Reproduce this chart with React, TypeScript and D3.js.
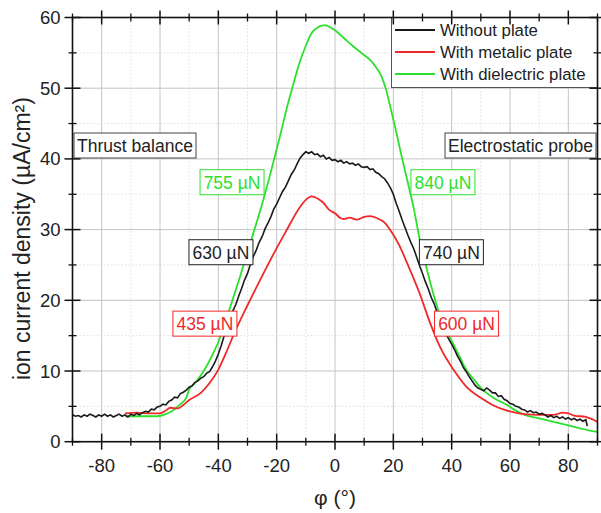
import React from "react";
import * as d3 from "d3";

const xMajorTicks = [-80, -60, -40, -20, 0, 20, 40, 60, 80];
const xMinorTicks = [-90, -70, -50, -30, -10, 10, 30, 50, 70, 90];
const yMajorTicks = [0, 10, 20, 30, 40, 50, 60];
const yMinorTicks = [5, 15, 25, 35, 45, 55];

const seriesNames = ["Without plate", "With metalic plate", "With dielectric plate"];
const seriesColors = ["#1a1a1a", "#f02828", "#2ee02e"];

const withoutPlate: [number, number][] = [
  [-90, 3.8], [-89, 3.6], [-88, 3.7], [-87, 3.5], [-86, 3.8], [-85, 3.6], [-84, 3.9], [-83, 3.7], [-82, 3.5], [-81, 3.8],
  [-80, 3.6], [-79, 3.9], [-78, 3.6], [-77, 3.8], [-76, 3.5], [-75, 3.7], [-74, 3.9], [-73, 3.6], [-72, 3.8], [-71, 3.5],
  [-70, 3.9], [-69, 3.7], [-68, 4.0], [-67, 3.8], [-66, 4.1], [-65, 4.3], [-64, 4.2], [-63, 4.6], [-62, 4.5], [-61, 4.9],
  [-60, 5.0], [-59, 5.3], [-58, 5.2], [-57, 5.7], [-56, 5.9], [-55, 6.3], [-54, 6.2], [-53, 6.8], [-52, 7.0], [-51, 7.3],
  [-50, 7.7], [-49, 7.9], [-48, 8.4], [-47, 8.6], [-46, 9.0], [-45, 9.2], [-44, 9.7], [-43, 9.9], [-42, 10.6], [-41, 11.4],
  [-40, 12.4], [-39, 13.6], [-38, 15.0], [-37, 16.2], [-36, 17.3], [-35, 18.5], [-34, 19.4], [-33, 20.6], [-32, 21.7], [-31, 22.9],
  [-30, 23.8], [-29, 25.1], [-28, 26.2], [-27, 27.1], [-26, 28.2], [-25, 29.0], [-24, 30.1], [-23, 30.9], [-22, 31.8], [-21, 32.9],
  [-20, 33.6], [-19, 34.5], [-18, 35.4], [-17, 36.0], [-16, 36.9], [-15, 37.8], [-14, 38.4], [-13, 39.3], [-12, 40.1], [-11, 40.6],
  [-10, 41.0], [-9, 40.8], [-8, 41.0], [-7, 40.6], [-6, 40.7], [-5, 40.3], [-4, 40.5], [-3, 40.0], [-2, 40.2], [-1, 39.8],
  [0, 39.9], [1, 39.6], [2, 39.8], [3, 39.4], [4, 39.6], [5, 39.3], [6, 39.4], [7, 39.1], [8, 39.3], [9, 38.9],
  [10, 38.8], [11, 38.9], [12, 38.5], [13, 38.6], [14, 38.1], [15, 37.9], [16, 37.5], [17, 37.2], [18, 36.6], [19, 35.9],
  [20, 35.0], [21, 33.7], [22, 32.6], [23, 31.4], [24, 30.3], [25, 29.2], [26, 28.2], [27, 27.3], [28, 26.1], [29, 24.9],
  [30, 23.8], [31, 22.6], [32, 21.6], [33, 20.4], [34, 19.5], [35, 18.3], [36, 17.2], [37, 16.4], [38, 15.3], [39, 14.5],
  [40, 13.8], [41, 13.0], [42, 12.1], [43, 11.4], [44, 10.5], [45, 9.9], [46, 9.2], [47, 8.6], [48, 8.0], [49, 7.6],
  [50, 7.4], [51, 7.2], [52, 7.6], [53, 7.3], [54, 6.9], [55, 6.9], [56, 6.4], [57, 6.5], [58, 6.0], [59, 5.8],
  [60, 5.4], [61, 5.3], [62, 5.0], [63, 4.9], [64, 4.6], [65, 4.5], [66, 4.2], [67, 4.4], [68, 4.1], [69, 4.2],
  [70, 3.9], [71, 4.0], [72, 3.8], [73, 3.5], [74, 3.7], [75, 3.4], [76, 3.6], [77, 3.3], [78, 3.5], [79, 3.2],
  [80, 3.4], [81, 3.1], [82, 3.3], [83, 3.0], [84, 3.2], [85, 2.9], [86, 3.1], [86.5, 2.2],
];

const metalicPlate: [number, number][] = [
  [-72, 4.0], [-68, 4.1], [-64, 4.0], [-60, 4.0], [-58, 4.4], [-56.5, 4.8], [-54, 4.7], [-52, 5.2], [-50, 5.9],
  [-46, 6.9], [-43, 8.3], [-40, 10.2], [-37, 12.9], [-35, 14.9], [-30, 19.3], [-26, 22.6], [-21, 26.6], [-17, 29.6],
  [-12, 33.2], [-10, 34.2], [-8, 34.7], [-6, 34.4], [-4, 33.8], [-2, 32.8], [0, 32.3], [2, 31.6], [3, 31.5], [5, 31.7],
  [7.5, 31.4], [10, 31.8], [12, 31.9], [15, 31.5], [17, 31.0], [19, 29.9], [22, 27.8], [25, 25.0], [29, 21.0],
  [32.6, 16.8], [36, 13.4], [40.6, 10.2], [45, 7.8], [50, 6.2], [54, 5.2], [59, 4.4], [65, 3.9], [70, 3.8], [75, 3.8],
  [78, 4.1], [80, 4.0], [82, 3.7], [86, 3.5], [90, 2.8],
];

const dielectricPlate: [number, number][] = [
  [-72, 3.6], [-66, 3.6], [-61, 3.6], [-58, 3.9], [-56, 4.3], [-53, 5.3], [-51, 6.2], [-50, 7.4], [-48, 8.3], [-46, 9.4],
  [-44, 10.7], [-42, 12.3], [-40, 14.1], [-37, 17.7], [-35, 20.2], [-32.6, 23.3], [-30, 26.8], [-28, 29.5], [-25, 33.6],
  [-23, 36.6], [-19, 43.0], [-16, 48.0], [-14, 51.0], [-12, 53.8], [-10, 56.0], [-8, 57.8], [-6, 58.6], [-4, 58.9],
  [-3, 58.9], [-2, 58.7], [0, 58.2], [3, 57.1], [6, 56.0], [9, 55.0], [12, 54.0], [14, 53.0], [16, 51.6], [17.5, 49.8],
  [19, 47.3], [21, 43.8], [22.5, 41.0], [25, 36.6], [27, 33.0], [29, 28.7], [31, 25.2], [33, 22.0], [36, 17.9], [38, 15.8],
  [40.6, 13.8], [43, 11.8], [45, 10.2], [48, 8.6], [50, 7.6], [54, 6.3], [59, 5.2], [62, 4.4], [65, 3.8], [70, 3.3],
  [75, 2.8], [80, 2.3], [84, 1.9], [87, 1.6], [90, 1.4],
];

const annotationLabels = ["Thrust balance", "Electrostatic probe"];
const thrustLeft = ["755 µN", "630 µN", "435 µN"];
const thrustRight = ["840 µN", "740 µN", "600 µN"];

const W = 601;
const H = 513;
const left = 72.5;
const right = 597.5;
const top = 17.5;
const bottom = 441.7;
const FONT = "'Liberation Sans', Arial, sans-serif";

export default function App() {
  const x = d3.scaleLinear().domain([-90, 90]).range([left, right]);
  const y = d3.scaleLinear().domain([0, 60]).range([bottom, top]);
  const lineRaw = d3.line<[number, number]>().x((d) => x(d[0])).y((d) => y(d[1]));
  const lineSmooth = d3
    .line<[number, number]>()
    .x((d) => x(d[0]))
    .y((d) => y(d[1]))
    .curve(d3.curveMonotoneX);

  const valueBoxes = [
    { text: thrustLeft[0], color: seriesColors[2], cx: -35.3, cy: 36.7 },
    { text: thrustLeft[1], color: "#222", cx: -39.1, cy: 26.8 },
    { text: thrustLeft[2], color: seriesColors[1], cx: -44.6, cy: 16.7 },
    { text: thrustRight[0], color: seriesColors[2], cx: 37.0, cy: 36.7 },
    { text: thrustRight[1], color: "#222", cx: 39.9, cy: 26.8 },
    { text: thrustRight[2], color: seriesColors[1], cx: 45.1, cy: 16.7 },
  ];

  return (
    <svg
      width={W}
      height={H}
      style={{ position: "absolute", left: 0, top: 0, background: "#fff" }}
      fontFamily={FONT}
    >
      <defs>
        <clipPath id="plotClip">
          <rect x={left} y={top} width={right - left} height={bottom - top} />
        </clipPath>
      </defs>
      {xMinorTicks.map((t) => (
        <line key={"xm" + t} x1={x(t)} x2={x(t)} y1={top} y2={bottom} stroke="#d8d8d8" strokeWidth={0.8} strokeDasharray="1.5,2" />
      ))}
      {yMinorTicks.map((t) => (
        <line key={"ym" + t} x1={left} x2={right} y1={y(t)} y2={y(t)} stroke="#d8d8d8" strokeWidth={0.8} strokeDasharray="1.5,2" />
      ))}
      {xMajorTicks.map((t) => (
        <line key={"xg" + t} x1={x(t)} x2={x(t)} y1={top} y2={bottom} stroke="#c4c4c4" strokeWidth={1} />
      ))}
      {yMajorTicks.map((t) => (
        <line key={"yg" + t} x1={left} x2={right} y1={y(t)} y2={y(t)} stroke="#c4c4c4" strokeWidth={1} />
      ))}

      <g clipPath="url(#plotClip)" fill="none">
        <path d={lineSmooth(dielectricPlate) || ""} stroke={seriesColors[2]} strokeWidth={1.8} />
        <path d={lineSmooth(metalicPlate) || ""} stroke={seriesColors[1]} strokeWidth={1.8} />
        <path d={lineRaw(withoutPlate) || ""} stroke={seriesColors[0]} strokeWidth={1.6} />
      </g>

      <g fontSize={17.5}>
        <rect x={74} y={133} width={122} height={25} fill="#fff" stroke="#444" strokeWidth={1} />
        <text x={135} y={151.5} textAnchor="middle" fill="#222">{annotationLabels[0]}</text>
        <rect x={445} y={133} width={151} height={25} fill="#fff" stroke="#444" strokeWidth={1} />
        <text x={520.5} y={151.5} textAnchor="middle" fill="#222">{annotationLabels[1]}</text>
        {valueBoxes.map((b, i) => (
          <g key={"vb" + i}>
            <rect x={x(b.cx) - 32} y={y(b.cy) - 12.5} width={64} height={25} fill="#fff" stroke={b.color} strokeWidth={1} />
            <text x={x(b.cx)} y={y(b.cy) + 6.3} textAnchor="middle" fill={b.color}>{b.text}</text>
          </g>
        ))}
      </g>

      <g>
        <rect x={391.5} y={17.5} width={206} height={70} fill="#fff" stroke="#555" strokeWidth={1} />
        {seriesNames.map((n, i) => (
          <g key={"lg" + i}>
            <line x1={395} x2={435} y1={30 + i * 22} y2={30 + i * 22} stroke={seriesColors[i]} strokeWidth={1.8} />
            <text x={440} y={36 + i * 22} fontSize={16.8} fill="#222">{n}</text>
          </g>
        ))}
      </g>

      <rect x={left} y={top} width={right - left} height={bottom - top} fill="none" stroke="#111" strokeWidth={1.6} />
      {xMajorTicks.map((t) => (
        <g key={"xt" + t}>
          <line x1={x(t)} x2={x(t)} y1={bottom - 8} y2={bottom + 8} stroke="#111" strokeWidth={1.5} />
          <line x1={x(t)} x2={x(t)} y1={top - 7} y2={top + 7} stroke="#111" strokeWidth={1.5} />
          <text x={x(t)} y={bottom + 30} textAnchor="middle" fontSize={18.5} fill="#222">{t}</text>
        </g>
      ))}
      {xMinorTicks.map((t) => (
        <g key={"xmt" + t}>
          <line x1={x(t)} x2={x(t)} y1={bottom - 4} y2={bottom + 4} stroke="#111" strokeWidth={1.3} />
          <line x1={x(t)} x2={x(t)} y1={top - 4} y2={top + 4} stroke="#111" strokeWidth={1.3} />
        </g>
      ))}
      {yMajorTicks.map((t) => (
        <g key={"yt" + t}>
          <line x1={left - 8} x2={left + 8} y1={y(t)} y2={y(t)} stroke="#111" strokeWidth={1.5} />
          <line x1={right - 8} x2={right + 8} y1={y(t)} y2={y(t)} stroke="#111" strokeWidth={1.5} />
          <text x={left - 12} y={y(t) + 6.5} textAnchor="end" fontSize={18.5} fill="#222">{t}</text>
        </g>
      ))}
      {yMinorTicks.map((t) => (
        <g key={"ymt" + t}>
          <line x1={left - 4} x2={left + 4} y1={y(t)} y2={y(t)} stroke="#111" strokeWidth={1.3} />
          <line x1={right - 4} x2={right + 4} y1={y(t)} y2={y(t)} stroke="#111" strokeWidth={1.3} />
        </g>
      ))}

      <text x={(left + right) / 2} y={505} textAnchor="middle" fontSize={21} fill="#222">φ (°)</text>
      <text
        transform={`translate(30, ${(top + bottom) / 2 + 9}) rotate(-90)`}
        textAnchor="middle"
        fontSize={23}
        fill="#222"
      >
        ion current density (µA/cm²)
      </text>
    </svg>
  );
}
